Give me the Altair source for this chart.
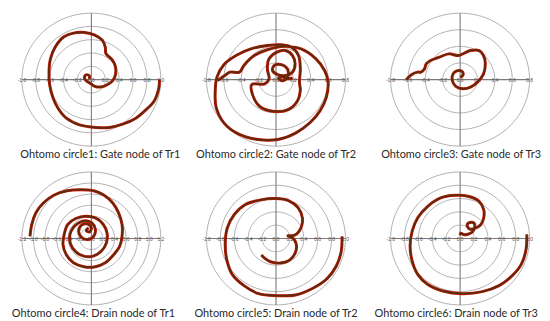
import altair as alt
import pandas as pd

titles = [
    "Ohtomo circle1: Gate node of Tr1",
    "Ohtomo circle2: Gate node of Tr2",
    "Ohtomo circle3: Gate node of Tr3",
    "Ohtomo circle4: Drain node of Tr1",
    "Ohtomo circle5: Drain node of Tr2",
    "Ohtomo circle6: Drain node of Tr3",
]
outer_ring = [1.0, 0.8, 0.8, 1.2, 1.0, 1.0]

x1 = [0.98, 0.97, 0.90, 0.81, 0.64, 0.45, 0.26, 0.07, -0.17, -0.36, -0.48, -0.55, -0.60, -0.61, -0.59, -0.52,
      -0.40, -0.26, -0.10, 0.05, 0.16, 0.20, 0.21, 0.29, 0.34, 0.35, 0.31, 0.24, 0.14, 0.05, -0.01, -0.07,
      -0.10, -0.08, -0.03, -0.03]
y1 = [0.0, -0.13, -0.33, -0.43, -0.58, -0.67, -0.72, -0.72, -0.68, -0.58, -0.43, -0.28, -0.08, 0.11, 0.31, 0.49,
      0.64, 0.70, 0.71, 0.67, 0.59, 0.49, 0.39, 0.31, 0.22, 0.09, -0.01, -0.07, -0.11, -0.10, -0.06, -0.02,
      0.02, 0.07, 0.06, 0.01]

x2 = [-0.67, -0.59, -0.53, -0.42, -0.37, -0.25, -0.10, 0.10, 0.29, 0.46, 0.56, 0.60, 0.58, 0.51, 0.40, 0.23,
      0.02, -0.21, -0.44, -0.60, -0.69, -0.70, -0.68, -0.60, -0.46, -0.29, -0.10, 0.06, 0.18, 0.26, 0.28, 0.27,
      0.28, 0.25, 0.14, -0.04, -0.19, -0.27, -0.28, -0.13, -0.08, -0.10, -0.08, 0.01, 0.11, 0.19, 0.22, 0.19,
      0.11, 0.02, -0.04, -0.02, 0.06, 0.13, 0.14, 0.11, 0.06, 0.03, 0.08, 0.14, 0.19]
y2 = [-0.01, 0.05, 0.09, 0.09, 0.17, 0.29, 0.36, 0.40, 0.37, 0.25, 0.11, -0.03, -0.21, -0.37, -0.51, -0.64,
      -0.72, -0.72, -0.65, -0.52, -0.33, -0.15, 0.03, 0.18, 0.29, 0.37, 0.41, 0.42, 0.39, 0.29, 0.13, -0.03,
      -0.13, -0.25, -0.36, -0.38, -0.32, -0.18, -0.06, -0.05, 0.01, 0.13, 0.25, 0.33, 0.35, 0.29, 0.19, 0.09,
      0.05, 0.06, 0.11, 0.17, 0.18, 0.13, 0.05, 0.0, -0.01, 0.02, 0.03, 0.01, 0.02]

x3 = [-0.62, -0.56, -0.49, -0.45, -0.41, -0.39, -0.34, -0.24, -0.13, -0.02, 0.05, 0.12, 0.22, 0.27, 0.29, 0.27,
      0.20, 0.12, 0.03, -0.05, -0.09, -0.08, -0.02, 0.03, 0.03, 0.0]
y3 = [0.0, 0.06, 0.09, 0.09, 0.13, 0.19, 0.23, 0.27, 0.31, 0.29, 0.32, 0.35, 0.35, 0.29, 0.19, 0.07,
      -0.03, -0.09, -0.11, -0.08, -0.01, 0.07, 0.11, 0.09, 0.05, 0.03]

x4 = [-1.06, -1.03, -0.96, -0.83, -0.65, -0.42, -0.19, 0.04, 0.22, 0.37, 0.47, 0.53, 0.53, 0.49, 0.38, 0.24,
      0.07, -0.13, -0.31, -0.43, -0.49, -0.47, -0.41, -0.27, -0.10, 0.07, 0.20, 0.27, 0.26, 0.17, 0.03, -0.13,
      -0.27, -0.36, -0.37, -0.31, -0.22, -0.10, 0.01, 0.07, 0.04, -0.06, -0.17, -0.22, -0.17, -0.06, 0.0,
      -0.03, -0.09, -0.05]
y4 = [0.04, 0.25, 0.46, 0.64, 0.78, 0.86, 0.88, 0.86, 0.78, 0.64, 0.46, 0.25, 0.04, -0.14, -0.30, -0.44,
      -0.51, -0.51, -0.44, -0.30, -0.11, 0.07, 0.25, 0.36, 0.40, 0.37, 0.26, 0.10, -0.08, -0.23, -0.32, -0.32,
      -0.24, -0.10, 0.07, 0.20, 0.28, 0.32, 0.28, 0.16, 0.04, -0.02, 0.02, 0.13, 0.24, 0.26, 0.19,
      0.12, 0.14, 0.19]

x5 = [0.95, 0.94, 0.87, 0.73, 0.51, 0.28, 0.0, -0.25, -0.46, -0.63, -0.71, -0.73, -0.70, -0.60, -0.44, -0.22,
      0.0, 0.18, 0.32, 0.38, 0.36, 0.30, 0.23, 0.17, 0.24, 0.29, 0.28, 0.19, 0.06, -0.08, -0.16, -0.21]
y5 = [0.03, -0.19, -0.41, -0.61, -0.76, -0.85, -0.86, -0.83, -0.71, -0.54, -0.31, -0.06, 0.16, 0.36, 0.51, 0.58,
      0.60, 0.57, 0.46, 0.31, 0.16, 0.07, 0.04, 0.04, 0.01, -0.08, -0.21, -0.33, -0.37, -0.35, -0.30, -0.25]

x6 = [0.96, 0.95, 0.88, 0.75, 0.56, 0.32, 0.03, -0.25, -0.47, -0.61, -0.69, -0.72, -0.69, -0.61, -0.47, -0.28,
      -0.06, 0.13, 0.27, 0.34, 0.34, 0.30, 0.21, 0.14, 0.10, 0.14, 0.20, 0.21, 0.18, 0.10, 0.05, 0.01, 0.0]
y6 = [0.06, -0.16, -0.39, -0.56, -0.71, -0.80, -0.83, -0.79, -0.69, -0.54, -0.34, -0.11, 0.11, 0.31, 0.48, 0.61,
      0.65, 0.63, 0.56, 0.43, 0.31, 0.21, 0.15, 0.14, 0.20, 0.24, 0.23, 0.17, 0.10, 0.06, 0.06, 0.08, 0.05]

curves = [(x1, y1), (x2, y2), (x3, y3), (x4, y4), (x5, y5), (x6, y6)]

GRID = "#a9a9a9"
AXIS = "#7a7a7a"
widths = [186, 186, 160]
heights = [160, 150]
center_x = [84, 84, 83.5]
center_y = 71
title_dx = [9, 0, 1, 2, 0, -4]
RX, RY = 70, 67


def panel(i):
    col, row = i % 3, i // 3
    W, H, cx = widths[col], heights[row], center_x[col]
    rmax = outer_ring[i]
    pxu, pyu = RX / rmax, RY / rmax
    xsc = alt.Scale(domain=[-cx / pxu, (W - cx) / pxu], nice=False, zero=False)
    ysc = alt.Scale(domain=[-(H - center_y) / pyu, center_y / pyu], nice=False, zero=False)
    n = int(round(rmax / 0.2))
    rings = [round(0.2 * k, 1) for k in range(1, n + 1)]
    ticks = [round(0.2 * k, 1) for k in range(-n, n + 1)]

    circles = alt.Chart(pd.DataFrame({"r": rings})).transform_calculate(
        a="sequence(0, 364, 4)"
    ).transform_flatten(["a"]).transform_calculate(
        px="datum.r * cos(datum.a * PI / 180)",
        py="datum.r * sin(datum.a * PI / 180)",
    ).mark_line(stroke=GRID, strokeWidth=0.9).encode(
        x=alt.X("px:Q", scale=xsc, axis=None),
        y=alt.Y("py:Q", scale=ysc, axis=None),
        detail="r:N",
        order="a:Q",
    )

    axes_df = pd.DataFrame({
        "xa": [-rmax, 0.0], "xb": [rmax, 0.0],
        "ya": [0.0, -rmax], "yb": [0.0, rmax],
    })
    axes = alt.Chart(axes_df).mark_rule(stroke=AXIS, strokeWidth=1.1).encode(
        x=alt.X("xa:Q", scale=xsc, axis=None), x2="xb:Q",
        y=alt.Y("ya:Q", scale=ysc, axis=None), y2="yb:Q",
    )

    tick_df = pd.DataFrame({"t": ticks, "zero": [0.0] * len(ticks),
                            "lab": [f"{t:.1f}" for t in ticks]})
    labels = alt.Chart(tick_df).mark_text(
        fontSize=5, color="#555555", baseline="middle", align="center", dy=0.5, font="Liberation Sans"
    ).encode(
        x=alt.X("t:Q", scale=xsc, axis=None),
        y=alt.Y("zero:Q", scale=ysc, axis=None),
        text="lab:N",
    )

    xs, ys = curves[i]
    cdf = pd.DataFrame({"x": xs, "y": ys, "k": list(range(len(xs)))})
    base = alt.Chart(cdf).encode(
        x=alt.X("x:Q", scale=xsc, axis=None),
        y=alt.Y("y:Q", scale=ysc, axis=None),
        order="k:Q",
    )
    halo = base.mark_line(stroke="#d21a0a", strokeWidth=3.0, interpolate="catmull-rom", strokeJoin="round")
    core = base.mark_line(stroke="#5e2a0c", strokeWidth=1.9, interpolate="catmull-rom", strokeJoin="round")

    title_y = (center_y - (146.5 if row == 0 else 147.5)) / pyu
    tdf = pd.DataFrame({"tx": [0.0], "ty": [title_y], "s": [titles[i]]})
    title = alt.Chart(tdf).mark_text(
        font="Lato", fontSize=11, color="#2a2a2a", baseline="middle", align="center", dx=title_dx[i]
    ).encode(
        x=alt.X("tx:Q", scale=xsc, axis=None),
        y=alt.Y("ty:Q", scale=ysc, axis=None),
        text="s:N",
    )

    return alt.layer(circles, axes, labels, halo, core, title).properties(width=W, height=H)


chart = alt.concat(
    *[panel(i) for i in range(6)], columns=3, spacing=0, bounds="flush"
).properties(padding=0, background="white").configure_view(strokeWidth=0)

chart.save("out.html", embed_options={"renderer": "svg", "actions": False})
